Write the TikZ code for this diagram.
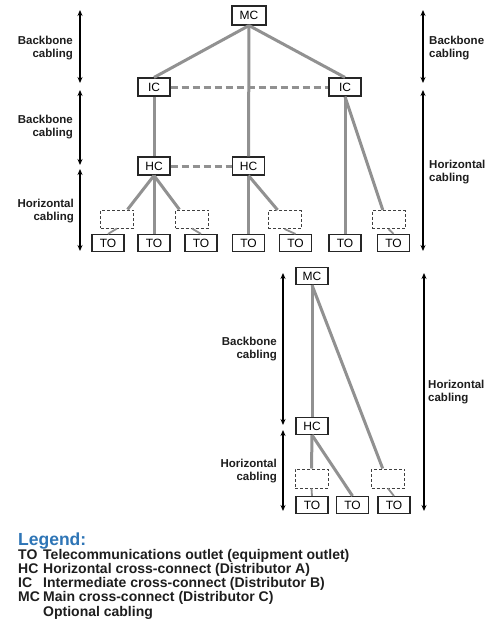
\documentclass[tikz,border=0pt]{standalone}
\usepackage{fontspec}
\setmainfont{Liberation Sans}
\usetikzlibrary{arrows.meta}
\definecolor{cablegray}{RGB}{145,145,145}
\definecolor{legendblue}{RGB}{46,117,182}
\definecolor{inkgray}{RGB}{30,30,30}

\begin{document}
\begin{tikzpicture}[x=1pt, y=-1pt,
        box/.style={draw=black!85, fill=white, line width=1.1pt, minimum width=32pt,
            minimum height=18pt, inner sep=0pt, font=\fontsize{12}{13}\selectfont},
        tobox/.style={box, minimum height=17pt},
        optbox/.style={draw=black!75, dash pattern=on 3pt off 2pt, line width=1pt,
            minimum width=33pt, minimum height=18pt, inner sep=0pt},
        cable/.style={draw=cablegray, line width=3pt},
        optcable/.style={cable, dash pattern=on 7pt off 4pt},
        span/.style={{Stealth[length=6pt,width=5pt]}-{Stealth[length=6pt,width=5pt]}, line width=1.3pt},
        lbl/.style={font=\fontsize{11.5}{13}\bfseries\selectfont, text=inkgray, inner sep=0pt},
        key/.style={anchor=base west, inner sep=0pt, text=inkgray, font=\fontsize{14}{15}\bfseries\selectfont}]
    \path [fill=white] (0,0) rectangle (498,637);
    \useasboundingbox (0,0) rectangle (498,637);

    % upper tree
    \node (mc) at (249,15.5) [box, minimum width=34pt, minimum height=19pt] {MC};
    \node (icl) at (154,87) [box] {IC};
    \node (icr) at (345,87) [box] {IC};
    \node (hcl) at (154,166) [box] {HC};
    \node (hcm) at (248.5,166) [box] {HC};

    \node (o1) at (117,219) [optbox] {};
    \node (o2) at (192,219) [optbox] {};
    \node (o3) at (284.5,219.5) [optbox] {};
    \node (o4) at (388.5,219.5) [optbox] {};

    \node (to1) at (108,243) [tobox] {TO};
    \node (to2) at (154,243) [tobox] {TO};
    \node (to3) at (201,243) [tobox] {TO};
    \node (to4) at (248.5,243) [tobox] {TO};
    \node (to5) at (295.5,243) [tobox] {TO};
    \node (to6) at (345,243) [tobox] {TO};
    \node (to7) at (393.5,243) [tobox] {TO};

    \draw [cable] (mc.south) -- (icl.north);
    \draw [cable] (mc.south) -- (icr.north);
    \draw [cable] (mc.south) -- (hcm.north);
    \draw [optcable] (icl.east) -- (icr.west);
    \draw [optcable] (hcl.east) -- (hcm.west);
    \draw [cable] (icl.south) -- (hcl.north);
    \draw [cable] (hcl.south) -- (o1.42);
    \draw [cable] (hcl.south) -- (to2.north);
    \draw [cable] (hcl.south) -- (o2.143);
    \draw [cable] (hcm.south) -- (to4.north);
    \draw [cable] (hcm.south) -- (o3.126);
    \draw [cable] (icr.south) -- (to6.north);
    \draw [cable] (icr.south) -- (o4.121);
    \draw [cable, line width=1.8pt] (o1.south) -- (to1.north);
    \draw [cable, line width=1.8pt] (o2.south) -- (to3.north);
    \draw [cable, line width=1.8pt] (o3.south) -- (to5.north);
    \draw [cable, line width=1.8pt] (o4.south) -- (to7.north);

    % lower tree
    \node (mcb) at (312,276) [box, minimum height=17pt] {MC};
    \node (hcb) at (312,426) [box, minimum height=17pt] {HC};
    \node (ob1) at (311.5,478.5) [optbox, minimum height=19pt] {};
    \node (ob2) at (388,478.5) [optbox, minimum height=19pt] {};
    \node (tob1) at (312,505) [tobox] {TO};
    \node (tob2) at (352.5,505) [tobox] {TO};
    \node (tob3) at (394,505) [tobox] {TO};

    \draw [cable] (mcb.south) -- (hcb.north);
    \draw [cable] (mcb.south) -- (ob2.118);
    \draw [cable] (hcb.south) -- (ob1.north);
    \draw [cable] (hcb.south) -- (tob2.north);
    \draw [cable, line width=1.8pt] (ob1.south) -- (tob1.north);
    \draw [cable, line width=1.8pt] (ob2.south) -- (tob3.north);

    % spans
    \coordinate (a1) at (80,10);
    \coordinate (a2) at (80,83);
    \coordinate (a3) at (80,90);
    \coordinate (a4) at (80,165);
    \coordinate (a5) at (80,169);
    \coordinate (a6) at (80,251);
    \coordinate (b1) at (423,10);
    \coordinate (b2) at (423,83);
    \coordinate (b3) at (423,90);
    \coordinate (b4) at (423,251);
    \coordinate (c1) at (283,273);
    \coordinate (c2) at (283,425);
    \coordinate (c3) at (283,430);
    \coordinate (c4) at (283,511);
    \coordinate (d1) at (424,273);
    \coordinate (d2) at (424,511);

    \draw [span] (a1) -- (a2);
    \draw [span] (a3) -- (a4);
    \draw [span] (a5) -- (a6);
    \draw [span] (b1) -- (b2);
    \draw [span] (b3) -- (b4);
    \draw [span] (c1) -- (c2);
    \draw [span] (c3) -- (c4);
    \draw [span] (d1) -- (d2);

    \node (l1) at (73,48.5) [lbl, anchor=east, align=right] {Backbone\\cabling};
    \node (l2) at (73,127.5) [lbl, anchor=east, align=right] {Backbone\\cabling};
    \node (l3) at (74,211) [lbl, anchor=east, align=right] {Horizontal\\cabling};
    \node (r1) at (429,48.5) [lbl, anchor=west, align=left] {Backbone\\cabling};
    \node (r2) at (429,172.5) [lbl, anchor=west, align=left] {Horizontal\\cabling};
    \node (l4) at (277,349) [lbl, anchor=east, align=right] {Backbone\\cabling};
    \node (l5) at (277,471) [lbl, anchor=east, align=right] {Horizontal\\cabling};
    \node (r3) at (428,392.5) [lbl, anchor=west, align=left] {Horizontal\\cabling};

    % legend
    \node (leg) at (18,545) [anchor=base west, inner sep=0pt, text=legendblue,
        font=\fontsize{17.5}{20}\bfseries\selectfont] {Legend:};
    \node (kto) at (18,559) [key] {TO};
    \node (dto) at (43,559) [key] {Telecommunications outlet (equipment outlet)};
    \node (khc) at (18,573.3) [key] {HC};
    \node (dhc) at (43,573.3) [key] {Horizontal cross-connect (Distributor A)};
    \node (kic) at (18,587.5) [key] {IC};
    \node (dic) at (43,587.5) [key] {Intermediate cross-connect (Distributor B)};
    \node (kmc) at (18,601.8) [key] {MC};
    \node (dmc) at (43,601.8) [key] {Main cross-connect (Distributor C)};
    \node (dopt) at (43,616) [key] {Optional cabling};
\end{tikzpicture}
\end{document}
